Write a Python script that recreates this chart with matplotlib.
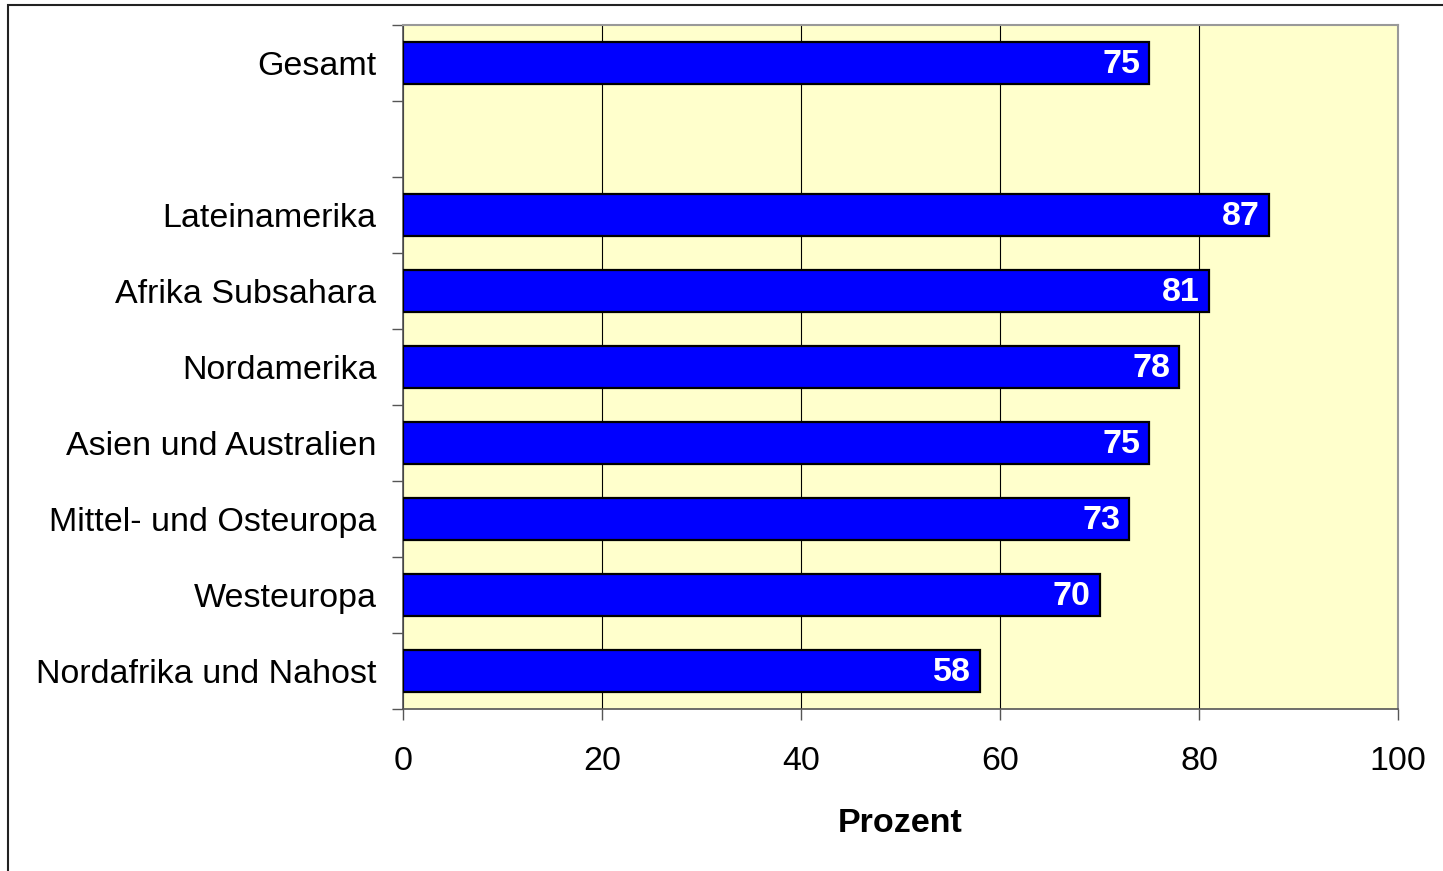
import matplotlib.pyplot as plt
from matplotlib.patches import Rectangle

plt.rcParams['font.family'] = ['Liberation Sans', 'DejaVu Sans']

# data, top to bottom (Gesamt is set apart by one empty row)
total_label = "Gesamt"
total_value = 75
regions = ["Lateinamerika", "Afrika Subsahara", "Nordamerika",
           "Asien und Australien", "Mittel- und Osteuropa", "Westeuropa",
           "Nordafrika und Nahost"]
region_values = [87, 81, 78, 75, 73, 70, 58]
x_ticks = [0, 20, 40, 60, 80, 100]

FS = 24.5

fig = plt.figure(figsize=(14.43, 8.71), dpi=100)
ax = fig.add_axes([403 / 1443, 1 - 709 / 871, 995 / 1443, 684 / 871])

# outer frame of the chart
fig.patches.append(Rectangle((8 / 1443, -0.05), 1.1, 1 - 5 / 871 + 0.05,
                             transform=fig.transFigure, fill=False,
                             edgecolor='#222222', linewidth=1.5))

n = len(regions)
positions = list(range(n - 1, -1, -1))
total_pos = n + 1
labels = [total_label] + regions
values = [total_value] + region_values
ypos = [total_pos] + positions

ax.set_facecolor('#FFFFCC')
ax.grid(axis='x', color='#000000', linewidth=0.8)
ax.set_axisbelow(True)

bars = ax.barh(ypos, values, height=0.55, color='#0000FF',
               edgecolor='black', linewidth=1.6, zorder=3)
for y, v in zip(ypos, values):
    ax.text(v - 0.9, y - 0.02, str(v), ha='right', va='center', color='white',
            fontsize=FS, fontweight='bold', zorder=4)

ax.set_xlim(0, 100)
ax.set_ylim(-0.5, total_pos + 0.5)
ax.set_xticks(x_ticks)
ax.set_xticklabels([str(t) for t in x_ticks])
ax.tick_params(axis='x', length=8, width=1, color='#555555', pad=19,
               labelsize=FS, direction='out')

# tick marks between the rows, labels at the row centres
ax.set_yticks([p - 0.5 for p in range(total_pos + 2)])
ax.set_yticklabels([])
ax.set_yticks(ypos, minor=True)
ax.set_yticklabels(labels, minor=True)
ax.tick_params(axis='y', which='major', length=8, width=1, color='#555555')
ax.tick_params(axis='y', which='minor', length=0, pad=19, labelsize=FS)

ax.set_xlabel("Prozent", fontsize=FS, fontweight='bold', labelpad=22)

for side in ['left', 'bottom']:
    ax.spines[side].set_color('#555555')
    ax.spines[side].set_linewidth(1.2)
for side in ['top', 'right']:
    ax.spines[side].set_color('#999999')
    ax.spines[side].set_linewidth(1.5)

fig.savefig('out.png', dpi=100)
